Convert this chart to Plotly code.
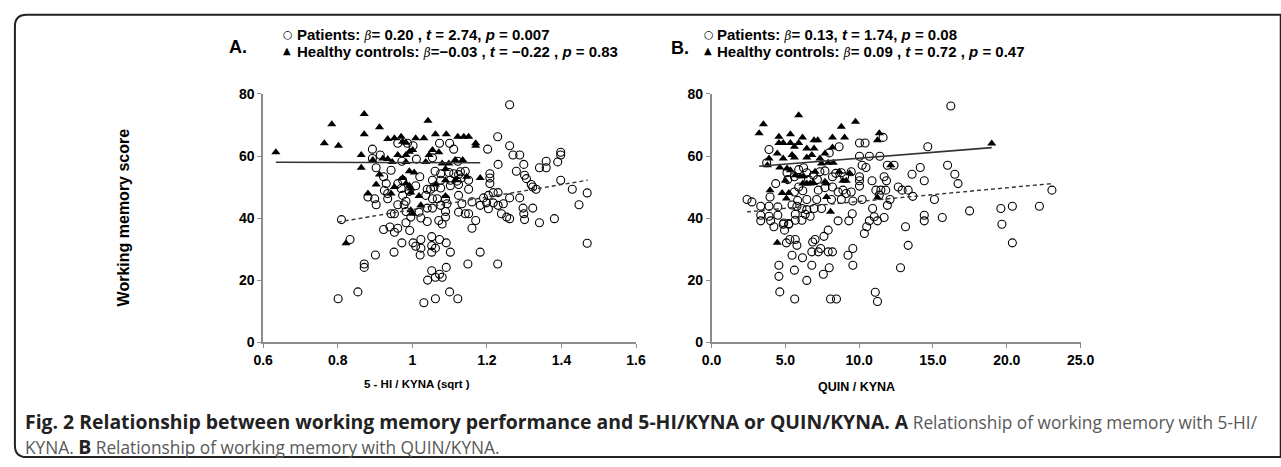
import plotly.graph_objects as go

# ---------------- data: Panel A (5-HI/KYNA sqrt) ----------------
a_hc_x = [0.634,0.764,0.784,0.802,0.871,0.871,0.912,0.863,0.934,0.952,0.970,0.974,0.983,1.009,1.031,1.042,
          1.062,1.091,1.122,1.138,1.151,1.170,1.170,0.863,0.894,0.921,0.934,0.946,0.961,0.983,0.983,1.001,
          0.992,1.036,1.045,1.054,1.071,1.080,1.098,1.135,1.115,1.089,0.992,1.005,0.974,0.903,0.912,0.952,
          0.983,0.992,0.996,1.062,1.089,1.115,1.146,1.182,0.881,0.943,0.996,1.018,1.089,1.023,0.996,1.001,0.822]
a_hc_y = [61.2,64.1,70.2,63.3,73.5,67.0,69.3,60.3,65.5,65.7,66.2,64.6,64.3,65.7,65.7,71.4,
          67.0,67.0,66.2,66.2,66.2,64.1,63.3,56.2,58.7,59.2,59.0,58.1,60.3,60.3,58.1,61.9,
          61.4,58.1,60.3,61.9,61.2,57.6,57.6,58.7,58.7,55.8,55.1,54.7,52.9,50.8,54.0,50.0,
          51.1,50.4,49.5,50.8,52.2,52.2,53.3,52.9,47.9,47.9,48.2,47.1,47.1,44.1,42.5,41.4,31.9]

a_pt_x = [1.261,1.229,1.261,1.202,0.893,0.914,0.961,0.987,1.002,1.073,1.100,1.111,0.893,0.972,1.011,1.054,
          1.122,1.270,1.288,1.398,1.398,1.390,1.359,1.230,0.903,0.943,1.061,1.076,1.098,1.111,1.129,1.142,
          1.124,1.279,1.299,1.341,1.359,1.301,0.923,0.930,0.961,0.974,1.020,1.054,1.076,1.102,1.120,1.131,
          1.151,1.208,1.208,1.208,1.306,1.319,1.398,0.925,0.934,0.970,0.992,1.009,1.040,1.049,1.058,1.076,
          1.102,1.124,1.151,1.323,1.332,1.429,1.469,0.881,0.899,0.903,0.934,0.974,0.983,1.036,1.054,1.067,
          1.089,1.124,1.160,1.191,1.204,1.217,1.230,1.261,1.288,0.961,0.978,1.040,1.054,1.076,1.093,1.133,
          1.182,1.199,1.217,1.230,1.244,1.297,1.323,1.447,0.943,0.952,0.983,1.018,1.089,1.124,1.142,1.151,
          1.204,1.239,1.253,1.261,1.299,1.301,1.341,1.381,0.810,0.996,1.023,1.071,1.040,1.089,1.170,
          0.983,1.080,1.160,0.923,0.940,0.952,0.961,0.993,0.833,0.972,1.002,1.009,1.023,1.023,1.052,1.073,
          1.052,1.062,1.052,1.091,1.102,1.021,0.901,0.951,1.182,0.871,0.871,1.149,1.229,1.091,1.052,1.073,
          1.062,1.080,1.041,0.854,1.100,0.801,1.062,1.122,1.031,1.469]
a_pt_y = [76.5,66.2,63.3,62.2,62.2,60.3,64.1,64.1,63.3,64.1,64.1,62.2,59.2,58.3,59.0,59.4,
          58.3,60.3,60.3,61.2,60.3,58.1,58.3,57.3,56.2,55.4,55.1,54.3,54.7,54.3,54.9,55.1,
          54.0,55.1,57.3,56.2,56.2,53.8,53.3,51.1,51.1,52.2,53.3,52.2,52.2,52.2,51.9,52.9,
          52.2,54.3,52.9,51.1,52.7,50.8,52.2,48.9,47.9,49.5,48.6,50.4,49.3,49.3,50.0,49.7,
          50.4,50.8,49.3,50.0,49.3,49.3,48.1,46.8,46.2,44.3,46.2,47.3,45.4,47.3,46.2,46.2,
          46.2,47.3,45.2,46.5,47.3,48.2,48.2,46.5,46.5,44.3,44.3,43.2,43.2,44.1,44.6,44.6,
          44.1,44.9,44.9,44.1,44.6,43.2,43.2,44.3,41.4,41.4,42.1,41.9,42.1,41.9,41.4,41.4,
          43.0,41.4,40.3,39.8,41.4,39.5,38.5,39.8,39.5,40.3,40.0,39.2,38.9,40.3,39.2,
          38.5,38.1,36.7,36.3,37.1,35.4,36.7,36.0,33.1,32.0,32.0,30.9,33.1,30.3,34.0,33.1,
          31.1,30.3,29.0,32.0,29.0,28.1,28.1,29.0,29.0,25.2,24.1,25.2,25.2,24.1,23.0,21.9,
          20.9,20.9,20.0,16.2,16.2,14.0,14.0,14.0,12.7,31.9]

# fitted lines (endpoints)
a_hc_fit_x = [0.634, 1.182]
a_hc_fit_y = [58.0, 57.8]
a_pt_fit_x = [0.800, 1.470]
a_pt_fit_y = [38.7, 52.2]

# ---------------- data: Panel B (QUIN/KYNA) ----------------
b_hc_x = [3.22,3.51,4.56,4.56,4.85,5.34,5.34,5.90,5.61,6.16,5.90,6.94,7.19,6.45,6.94,8.19,8.79,9.01,9.75,
          11.36,11.24,18.98,3.89,4.45,4.85,5.45,5.61,6.45,6.79,7.34,7.68,8.19,7.45,7.90,8.24,3.78,4.62,
          5.11,5.34,6.01,5.67,6.23,7.01,8.64,9.35,8.90,9.12,5.00,6.18,6.45,6.68,6.90,7.68,7.79,3.96,4.78,
          5.23,5.07,7.79,11.24,8.06,12.14,4.45]
b_hc_y = [67.3,70.2,66.2,64.2,64.2,67.0,64.2,73.1,63.0,66.0,64.2,65.1,65.1,62.4,62.4,66.0,69.4,66.0,71.0,
          67.3,65.1,64.0,59.2,60.8,59.2,60.3,59.5,59.5,60.3,59.2,60.8,62.7,57.6,57.8,57.8,57.0,56.3,
          56.0,55.4,53.5,53.8,53.5,54.9,54.9,54.4,52.0,52.0,52.0,51.1,51.1,51.1,51.3,51.7,51.1,49.0,48.1,
          48.1,46.3,46.8,46.6,42.0,57.0,32.0]

b_pt_x = [16.21,14.65,15.99,16.48,16.70,14.14,13.58,14.41,15.10,12.91,12.65,13.32,13.63,12.09,23.06,22.21,
          20.38,19.60,17.48,15.63,14.41,14.41,3.89,3.73,4.34,2.40,2.73,3.33,3.89,3.96,4.49,3.33,3.89,4.49,
          5.11,5.16,5.61,5.90,6.23,6.45,6.90,7.34,7.68,8.19,8.41,8.79,9.01,9.46,10.02,10.02,10.02,10.87,
          11.69,11.85,11.13,11.47,11.80,11.36,11.91,12.36,10.20,10.46,10.02,10.40,10.02,10.69,11.40,11.62,
          8.64,7.97,6.57,7.17,5.90,5.61,6.18,7.23,7.68,8.19,8.57,8.90,9.12,9.46,8.12,8.79,9.57,10.20,6.45,
          7.12,5.83,5.45,5.78,6.12,6.45,6.94,7.45,5.67,6.34,6.68,8.57,9.30,9.53,10.69,11.02,11.24,11.69,
          10.91,11.91,4.89,5.23,5.67,6.12,3.33,4.00,
          4.22,4.85,5.23,4.94,10.51,10.35,13.14,19.67,5.07,5.30,5.67,5.78,6.85,7.01,7.61,7.90,7.39,6.79,
          7.23,7.90,8.19,9.57,9.24,5.45,6.16,4.56,6.79,9.57,5.61,7.97,7.57,13.32,12.80,4.56,6.45,4.62,
          5.63,8.06,8.46,11.09,11.24,20.38]
b_pt_y = [76.1,63.0,57.0,54.1,51.1,56.3,54.1,52.0,46.0,49.0,50.0,49.0,47.0,46.0,49.0,43.8,
          43.8,43.1,42.3,40.2,40.9,39.1,62.1,57.8,51.1,46.0,45.2,43.8,43.8,46.8,43.6,40.9,40.6,40.9,
          54.6,52.4,53.3,55.6,56.2,54.6,53.8,54.9,55.2,53.3,54.4,54.6,53.3,54.9,53.3,52.0,50.3,52.0,
          53.3,52.0,49.0,49.0,49.0,47.4,57.0,57.0,57.0,56.3,64.2,64.2,59.9,59.9,59.9,66.0,
          63.0,61.0,52.4,52.4,50.0,48.4,48.8,49.0,49.8,50.0,48.4,49.0,47.9,48.4,46.0,46.0,45.5,46.0,46.0,
          46.0,45.7,44.2,43.8,43.1,42.7,43.1,43.1,41.2,41.2,40.6,39.1,39.1,41.4,39.1,40.4,39.1,40.2,
          43.1,44.1,38.4,38.2,39.3,39.3,39.1,39.1,
          37.2,38.0,38.0,36.1,37.2,35.0,37.2,38.0,32.0,33.1,33.1,31.2,32.3,33.1,34.1,36.1,30.2,29.1,
          29.1,29.1,29.1,30.2,28.0,28.0,27.2,24.8,24.8,24.8,23.2,24.0,21.9,31.2,24.0,21.2,19.9,16.2,
          13.9,13.9,13.9,16.1,13.1,32.0]

b_hc_fit_x = [3.22, 18.98]
b_hc_fit_y = [56.7, 62.7]
b_pt_fit_x = [2.40, 23.06]
b_pt_fit_y = [42.0, 51.1]

a_ticks = [0.6, 0.8, 1.0, 1.2, 1.4, 1.6]
a_ticktext = ["0.6", "0.8", "1", "1.2", "1.4", "1.6"]
b_ticks = [0, 5, 10, 15, 20, 25]
b_ticktext = ["0.0", "5.0", "10.0", "15.0", "20.0", "25.0"]
y_ticks = [0, 20, 40, 60, 80]

W, H = 1281, 467
def px(x): return x / W
def py(y): return 1 - y / H

AX_FONT = "Liberation Sans, Arial, sans-serif"
NARROW = "Liberation Sans Narrow, Arial Narrow, Liberation Sans, sans-serif"

fig = go.Figure()

circle = dict(symbol="circle-open", size=8, color="black", line=dict(width=1.1, color="black"))
tri = dict(symbol="triangle-up", size=8, color="black")

fig.add_trace(go.Scatter(x=a_pt_x, y=a_pt_y, mode="markers", marker=circle, xaxis="x", yaxis="y"))
fig.add_trace(go.Scatter(x=a_hc_x, y=a_hc_y, mode="markers", marker=tri, xaxis="x", yaxis="y"))
fig.add_trace(go.Scatter(x=a_hc_fit_x, y=a_hc_fit_y, mode="lines", line=dict(color="#333", width=1.6), xaxis="x", yaxis="y"))
fig.add_trace(go.Scatter(x=a_pt_fit_x, y=a_pt_fit_y, mode="lines", line=dict(color="#333", width=1.4, dash="4px,3px"), xaxis="x", yaxis="y"))

fig.add_trace(go.Scatter(x=b_pt_x, y=b_pt_y, mode="markers", marker=circle, xaxis="x2", yaxis="y2"))
fig.add_trace(go.Scatter(x=b_hc_x, y=b_hc_y, mode="markers", marker=tri, xaxis="x2", yaxis="y2"))
fig.add_trace(go.Scatter(x=b_hc_fit_x, y=b_hc_fit_y, mode="lines", line=dict(color="#333", width=1.6), xaxis="x2", yaxis="y2"))
fig.add_trace(go.Scatter(x=b_pt_fit_x, y=b_pt_fit_y, mode="lines", line=dict(color="#333", width=1.4, dash="4px,3px"), xaxis="x2", yaxis="y2"))

axis_common = dict(showline=True, linecolor="#8c8c8c", linewidth=1.5, ticks="outside", ticklen=4,
                   tickcolor="#8c8c8c", tickwidth=1.2, showgrid=False, zeroline=False,
                   tickfont=dict(family=AX_FONT, size=14, color="black", weight="bold"))

fig.update_layout(
    width=W, height=H, margin=dict(l=0, r=0, t=0, b=0),
    plot_bgcolor="white", paper_bgcolor="white", showlegend=False,
    xaxis=dict(domain=[px(258), px(638)], range=[0.6, 1.6], tickvals=a_ticks, ticktext=a_ticktext,
               anchor="y", **axis_common),
    yaxis=dict(domain=[py(346), py(89)], range=[0, 80], tickvals=y_ticks, anchor="x", **axis_common),
    xaxis2=dict(domain=[px(715), px(1091)], range=[0, 25], tickvals=b_ticks, ticktext=b_ticktext,
                anchor="y2", **axis_common),
    yaxis2=dict(domain=[py(346), py(89)], range=[0, 80], tickvals=y_ticks, anchor="x2", **axis_common),
)

ann = []
def text(x, y, s, size=13, family=NARROW, color="black", xanchor="left", angle=0):
    ann.append(dict(x=px(x), y=py(y), xref="paper", yref="paper", text=s, showarrow=False,
                    xanchor=xanchor, yanchor="middle", textangle=angle,
                    font=dict(family=family, size=size, color=color)))

beta = "<span style='font-family:DejaVu Serif;font-size:12px'><i>β</i></span>"
HY = [27, 45]      # header line centres
# Panel A header
text(221, 40, "<b>A.</b>", size=18, family=AX_FONT)
text(276, HY[0], "○", size=11, family="DejaVu Sans")
text(290, HY[0], f"<b>Patients: </b>{beta}<b>= 0.20 , <i>t</i> = 2.74, <i>p</i> = 0.007</b>", size=15)
text(276, HY[1] - 1, "▲", size=10, family="DejaVu Sans")
text(290, HY[1], f"<b>Healthy controls: </b>{beta}<b>=−0.03 , <i>t</i> = −0.22 , <i>p</i> = 0.83</b>", size=15)
# Panel B header
text(672, 41, "<b>B.</b>", size=18, family=AX_FONT)
text(705, HY[0], "○", size=11, family="DejaVu Sans")
text(718, HY[0], f"<b>Patients: </b>{beta}<b>= 0.13, <i>t</i> = 1.74, <i>p</i> = 0.08</b>", size=15)
text(705, HY[1] - 1, "▲", size=10, family="DejaVu Sans")
text(718, HY[1], f"<b>Healthy controls: </b>{beta}<b>= 0.09 , <i>t</i> = 0.72 , <i>p</i> = 0.47</b>", size=15)

# axis titles
text(116, 217, "<b>Working memory score</b>", size=16, family=AX_FONT, xanchor="center", angle=-90)
text(415, 389, "<b>5 - HI / KYNA (sqrt )</b>", size=11.5, family=NARROW, xanchor="center")
text(863, 392, "<b>QUIN / KYNA</b>", size=12.5, family=NARROW, xanchor="center")

# caption
CAP = "Open Sans, sans-serif"
BOLD = "<b><span style='font-size:19.4px;color:#222'>{}</span></b>"
REG = "<span style='font-size:17.3px;color:#595959'>{}</span>"
text(13, 428, BOLD.format("Fig. 2 Relationship between working memory performance and 5-HI/KYNA or QUIN/KYNA. A")
     + REG.format(" Relationship of working memory with 5-HI/"), size=17, family=CAP, color="#222")
text(13, 454, REG.format("KYNA. ") + BOLD.format("B") + REG.format(" Relationship of working memory with QUIN/KYNA."),
     size=17, family=CAP, color="#222")
fig.update_layout(annotations=ann)

# rounded border box
x0, y0, x1, y1, r = 5, 7, 1295, 465, 12
path = (f"M {px(x0)},{py(y0 + r)} Q {px(x0)},{py(y0)} {px(x0 + r)},{py(y0)} "
        f"L {px(x1)},{py(y0)} L {px(x1)},{py(y1)} L {px(x0 + r)},{py(y1)} "
        f"Q {px(x0)},{py(y1)} {px(x0)},{py(y1 - r)} Z")
fig.add_shape(type="path", path=path, xref="paper", yref="paper", line=dict(color="#222", width=2))

fig.write_html("out.html", config={"displayModeBar": False},
               post_script="document.body.style.margin='0';document.body.style.overflow='hidden';")
